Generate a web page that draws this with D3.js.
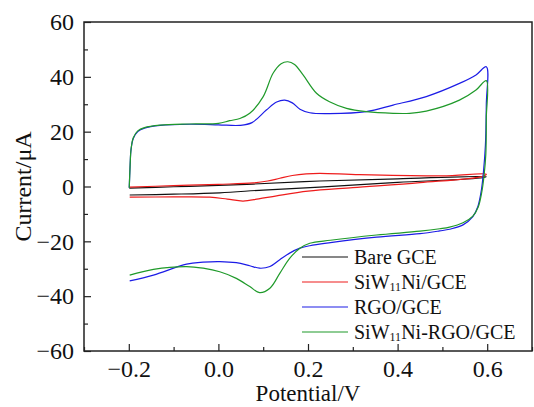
<!DOCTYPE html>
<html>
<head>
<meta charset="utf-8">
<script src="https://cdn.jsdelivr.net/npm/d3@7"></script>
<style>
  html, body { margin: 0; padding: 0; background: #fff; }
  svg { display: block; }
  text { font-family: "Liberation Serif", "Times New Roman", serif; fill: #111; }
</style>
</head>
<body>
<svg id="chart" width="534" height="407"></svg>
<script>
// Cyclic voltammograms: [potential (V), current (µA)] in scan order
const bareGCE = [
  [-0.199, -0.6], [-0.1, -0.1], [0.0, 0.4], [0.078, 0.9], [0.226, 2.0], [0.4, 2.8], [0.598, 3.6],
  [0.59, 3.2], [0.4, 1.5], [0.226, -0.2], [0.1, -1.3], [0.003, -2.3], [-0.1, -2.8], [-0.198, -3.1]
];
const siw11NiGCE = [
  [-0.199, -0.2], [-0.1, 0.3], [0.0, 0.8], [0.078, 1.3], [0.11, 2.0], [0.137, 3.0], [0.165, 4.0],
  [0.196, 4.6], [0.226, 4.8], [0.315, 4.3], [0.5, 3.9], [0.598, 4.5],
  [0.59, 3.7], [0.45, 1.4], [0.3, -0.4], [0.2, -1.7], [0.13, -3.4], [0.09, -4.5], [0.055, -5.3],
  [0.02, -4.6], [-0.019, -3.9], [-0.1, -3.8], [-0.198, -3.9]
];
const rgoGCE = [
  [-0.199, -0.5], [-0.197, 8], [-0.195, 13.5], [-0.19, 17.5], [-0.18, 20], [-0.165, 21.3],
  [-0.13, 22.3], [-0.064, 22.7], [0.0, 22.5], [0.048, 22.3], [0.075, 23.3], [0.107, 27.9],
  [0.13, 30.8], [0.148, 31.5], [0.165, 30.5], [0.182, 28.2], [0.204, 26.9], [0.248, 26.6],
  [0.33, 27.3], [0.39, 29.7], [0.464, 32.8], [0.538, 37.6], [0.575, 40.7], [0.598, 43.7],
  [0.598, 30], [0.596, 15], [0.592, 6], [0.587, -1.3], [0.579, -7.4], [0.568, -11],
  [0.546, -14], [0.516, -15.6], [0.494, -16.2], [0.45, -17.2], [0.353, -18.5], [0.25, -20.5],
  [0.204, -21.6], [0.182, -22.5], [0.159, -24.3], [0.137, -26.7], [0.115, -29.2], [0.092, -29.8],
  [0.07, -28.9], [0.04, -27.8], [0.003, -27.4], [-0.034, -27.6], [-0.071, -28.3],
  [-0.145, -32.3], [-0.198, -34.4]
];
const siw11NiRgoGCE = [
  [-0.199, -0.5], [-0.197, 8], [-0.195, 13.5], [-0.19, 17.8], [-0.18, 20.3], [-0.165, 21.5],
  [-0.13, 22.4], [-0.064, 22.8], [0.0, 23.0], [0.025, 24.0], [0.048, 24.8], [0.07, 26.7],
  [0.1, 32.8], [0.122, 41.3], [0.14, 44.8], [0.155, 45.5], [0.17, 44.5], [0.189, 40.7],
  [0.219, 34], [0.248, 30.9], [0.286, 28.5], [0.33, 27.3], [0.39, 26.7], [0.427, 26.7],
  [0.464, 27.5], [0.538, 31.5], [0.575, 35.2], [0.598, 38.6],
  [0.598, 25], [0.597, 12], [0.593, 4], [0.588, -2], [0.58, -7.5], [0.568, -10.8],
  [0.546, -13.2], [0.516, -14.8], [0.494, -15.4], [0.45, -16.3], [0.353, -17.7], [0.25, -19.6],
  [0.204, -20.7], [0.182, -22.5], [0.159, -26.2], [0.137, -31.7], [0.115, -37.1], [0.092, -38.7],
  [0.07, -36.5], [0.04, -33.5], [0.003, -31.1], [-0.034, -29.8], [-0.071, -29.2],
  [-0.145, -30.2], [-0.198, -32.3]
];

const seriesNames = ["Bare GCE", "SiW11Ni/GCE", "RGO/GCE", "SiW11Ni-RGO/GCE"];
const seriesColors = ["#111111", "#ee1c1c", "#1c1ce6", "#1f9a2a"];
const xTicks = [-0.2, 0.0, 0.2, 0.4, 0.6];
const xMinorTicks = [-0.3, -0.1, 0.1, 0.3, 0.5, 0.7];
const yTicks = [-60, -40, -20, 0, 20, 40, 60];
const yMinorTicks = [-50, -30, -10, 10, 30, 50];

const allSeries = [bareGCE, siw11NiGCE, rgoGCE, siw11NiRgoGCE];

const serif = "'Liberation Serif', 'Times New Roman', serif";
const svg = d3.select("#chart");
const plot = { left: 84, right: 532, top: 22, bottom: 351 };

const x = d3.scaleLinear().domain([-0.3, 0.7]).range([plot.left, plot.right]);
const y = d3.scaleLinear().domain([-60, 60]).range([plot.bottom, plot.top]);

// Curves
const line = d3.line()
  .x(d => x(d[0]))
  .y(d => y(d[1]))
  .curve(d3.curveCatmullRom.alpha(0.5));

svg.append("g").selectAll("path")
  .data(allSeries)
  .join("path")
  .attr("d", d => line(d))
  .attr("fill", "none")
  .attr("stroke", (d, i) => seriesColors[i])
  .attr("stroke-width", 1.2)
  .attr("stroke-linejoin", "round");

// Axes with inward ticks
const xAxis = d3.axisBottom(x).tickValues(xTicks).tickFormat(d3.format(".1f"))
  .tickSizeInner(-7).tickSizeOuter(0).tickPadding(9);
const xMinor = d3.axisBottom(x).tickValues(xMinorTicks).tickFormat("")
  .tickSizeInner(-4).tickSizeOuter(0);
const yAxis = d3.axisLeft(y).tickValues(yTicks).tickFormat(d3.format("d"))
  .tickSizeInner(-7).tickSizeOuter(0).tickPadding(10);
const yMinor = d3.axisLeft(y).tickValues(yMinorTicks).tickFormat("")
  .tickSizeInner(-4).tickSizeOuter(0);

function styleAxis(g) {
  g.attr("font-family", serif).attr("font-size", 24);
  g.select(".domain").remove();
  g.selectAll(".tick line").attr("stroke", "#222").attr("stroke-width", 1.2);
  g.selectAll(".tick text")
    .style("font-family", serif)
    .style("font-size", "24px")
    .attr("fill", "#111");
}

svg.append("g").attr("transform", `translate(0,${plot.bottom})`).call(xAxis).call(styleAxis);
svg.append("g").attr("transform", `translate(0,${plot.bottom})`).call(xMinor).call(styleAxis);
svg.append("g").attr("transform", `translate(${plot.left},0)`).call(yAxis).call(styleAxis);
svg.append("g").attr("transform", `translate(${plot.left},0)`).call(yMinor).call(styleAxis);

// Frame
svg.append("rect")
  .attr("x", plot.left).attr("y", plot.top)
  .attr("width", plot.right - plot.left).attr("height", plot.bottom - plot.top)
  .attr("fill", "none").attr("stroke", "#222").attr("stroke-width", 1.5);

// Axis titles
svg.append("text")
  .attr("x", (plot.left + plot.right) / 2).attr("y", 401)
  .attr("text-anchor", "middle").style("font-size", "23px")
  .text("Potential/V");
svg.append("text")
  .attr("transform", `translate(31,${(plot.top + plot.bottom) / 2}) rotate(-90)`)
  .attr("text-anchor", "middle").style("font-size", "24px")
  .text("Current/μA");

// Legend
const legend = svg.append("g");
const legendY = [257, 282, 307, 332];
seriesNames.forEach((name, i) => {
  const row = legend.append("g").attr("transform", `translate(0,${legendY[i]})`);
  row.append("line").attr("x1", 302).attr("x2", 348).attr("y1", 0).attr("y2", 0)
    .attr("stroke", seriesColors[i]).attr("stroke-width", 1.2);
  const t = row.append("text").attr("x", 354).attr("y", 7).style("font-size", "20px");
  const parts = name.split("11");
  if (parts.length > 1) {
    t.append("tspan").text(parts[0]);
    t.append("tspan").style("font-size", "12px").attr("dy", 2).text("11");
    t.append("tspan").attr("dy", -2).text(parts[1]);
  } else {
    t.text(name);
  }
});
</script>
</body>
</html>
